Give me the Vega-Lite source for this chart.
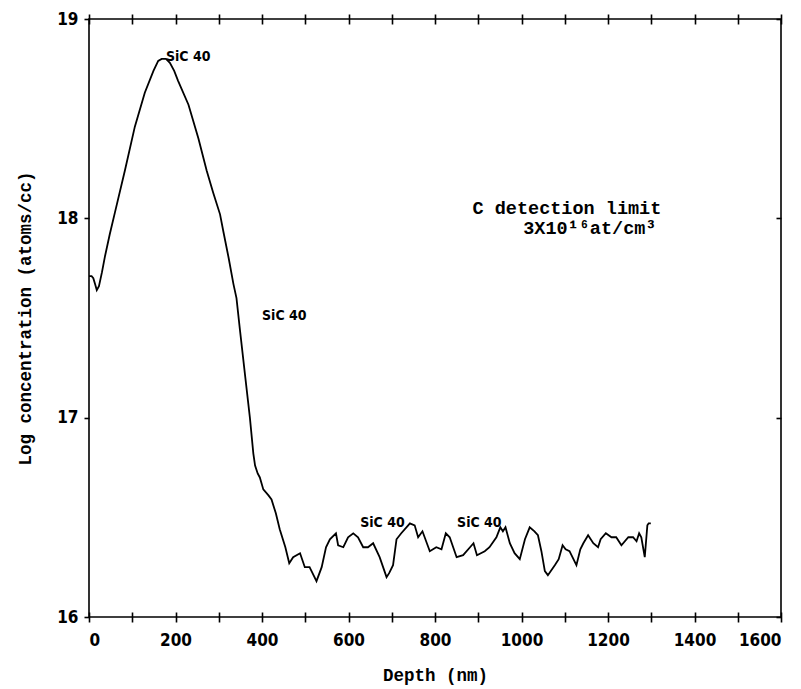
{
  "$schema": "https://vega.github.io/schema/vega-lite/v6.json",
  "width": 692,
  "height": 598,
  "autosize": {"type": "none"},
  "padding": {"left": 89, "top": 19, "right": 20, "bottom": 72},
  "background": "white",
  "config": {
    "view": {"stroke": "black", "strokeWidth": 1.6},
    "axis": {
      "domain": false,
      "grid": false,
      "tickColor": "black",
      "tickWidth": 1.6,
      "labelColor": "black",
      "titleColor": "black"
    }
  },
  "datasets": {
    "profile": [
      {"depth": 0, "logc": 17.71}, {"depth": 6, "logc": 17.71}, {"depth": 10, "logc": 17.70},
      {"depth": 14, "logc": 17.67}, {"depth": 18, "logc": 17.64}, {"depth": 23, "logc": 17.66},
      {"depth": 30, "logc": 17.73}, {"depth": 37, "logc": 17.81}, {"depth": 48, "logc": 17.92},
      {"depth": 60, "logc": 18.03}, {"depth": 83, "logc": 18.24}, {"depth": 106, "logc": 18.46},
      {"depth": 129, "logc": 18.63}, {"depth": 149, "logc": 18.74}, {"depth": 160, "logc": 18.79},
      {"depth": 168, "logc": 18.80}, {"depth": 178, "logc": 18.80}, {"depth": 187, "logc": 18.78},
      {"depth": 197, "logc": 18.74}, {"depth": 206, "logc": 18.69}, {"depth": 230, "logc": 18.57},
      {"depth": 253, "logc": 18.40}, {"depth": 272, "logc": 18.24}, {"depth": 287, "logc": 18.13},
      {"depth": 303, "logc": 18.02}, {"depth": 311, "logc": 17.93}, {"depth": 323, "logc": 17.80},
      {"depth": 334, "logc": 17.67}, {"depth": 341, "logc": 17.60}, {"depth": 349, "logc": 17.44},
      {"depth": 361, "logc": 17.21}, {"depth": 372, "logc": 17.00}, {"depth": 380, "logc": 16.82},
      {"depth": 384, "logc": 16.76}, {"depth": 390, "logc": 16.72}, {"depth": 395, "logc": 16.70},
      {"depth": 403, "logc": 16.64}, {"depth": 415, "logc": 16.61}, {"depth": 422, "logc": 16.59},
      {"depth": 432, "logc": 16.52}, {"depth": 441, "logc": 16.44}, {"depth": 454, "logc": 16.35},
      {"depth": 463, "logc": 16.27}, {"depth": 472, "logc": 16.30}, {"depth": 488, "logc": 16.32},
      {"depth": 499, "logc": 16.25}, {"depth": 510, "logc": 16.25}, {"depth": 526, "logc": 16.18},
      {"depth": 538, "logc": 16.25}, {"depth": 548, "logc": 16.35}, {"depth": 557, "logc": 16.39},
      {"depth": 571, "logc": 16.42}, {"depth": 576, "logc": 16.36}, {"depth": 588, "logc": 16.35},
      {"depth": 599, "logc": 16.40}, {"depth": 611, "logc": 16.42}, {"depth": 622, "logc": 16.40},
      {"depth": 634, "logc": 16.35}, {"depth": 645, "logc": 16.35}, {"depth": 657, "logc": 16.37},
      {"depth": 672, "logc": 16.30}, {"depth": 688, "logc": 16.20}, {"depth": 694, "logc": 16.22},
      {"depth": 703, "logc": 16.26}, {"depth": 711, "logc": 16.39}, {"depth": 722, "logc": 16.42},
      {"depth": 738, "logc": 16.46}, {"depth": 742, "logc": 16.47}, {"depth": 753, "logc": 16.46},
      {"depth": 761, "logc": 16.40}, {"depth": 771, "logc": 16.43}, {"depth": 788, "logc": 16.33},
      {"depth": 803, "logc": 16.35}, {"depth": 815, "logc": 16.34}, {"depth": 825, "logc": 16.42},
      {"depth": 834, "logc": 16.40}, {"depth": 850, "logc": 16.30}, {"depth": 865, "logc": 16.31},
      {"depth": 881, "logc": 16.35}, {"depth": 889, "logc": 16.37}, {"depth": 897, "logc": 16.31},
      {"depth": 915, "logc": 16.33}, {"depth": 926, "logc": 16.35}, {"depth": 942, "logc": 16.40},
      {"depth": 951, "logc": 16.45}, {"depth": 957, "logc": 16.43}, {"depth": 963, "logc": 16.45},
      {"depth": 973, "logc": 16.37}, {"depth": 984, "logc": 16.32}, {"depth": 996, "logc": 16.29},
      {"depth": 1008, "logc": 16.39}, {"depth": 1019, "logc": 16.45}, {"depth": 1030, "logc": 16.43},
      {"depth": 1038, "logc": 16.41}, {"depth": 1046, "logc": 16.33}, {"depth": 1054, "logc": 16.23},
      {"depth": 1061, "logc": 16.21}, {"depth": 1077, "logc": 16.26}, {"depth": 1086, "logc": 16.29},
      {"depth": 1095, "logc": 16.36}, {"depth": 1102, "logc": 16.34}, {"depth": 1111, "logc": 16.33},
      {"depth": 1127, "logc": 16.26}, {"depth": 1136, "logc": 16.34}, {"depth": 1143, "logc": 16.37},
      {"depth": 1154, "logc": 16.41}, {"depth": 1166, "logc": 16.37}, {"depth": 1177, "logc": 16.35},
      {"depth": 1183, "logc": 16.39}, {"depth": 1195, "logc": 16.42}, {"depth": 1208, "logc": 16.40},
      {"depth": 1219, "logc": 16.40}, {"depth": 1231, "logc": 16.36}, {"depth": 1247, "logc": 16.40},
      {"depth": 1258, "logc": 16.40}, {"depth": 1266, "logc": 16.38}, {"depth": 1272, "logc": 16.42},
      {"depth": 1277, "logc": 16.40}, {"depth": 1285, "logc": 16.30}, {"depth": 1291, "logc": 16.46},
      {"depth": 1294, "logc": 16.47}, {"depth": 1299, "logc": 16.47}
    ],
    "peaks": [
      {"depth": 178, "logc": 18.81, "label": "SiC 40"},
      {"depth": 400, "logc": 17.51, "label": "SiC 40"},
      {"depth": 627, "logc": 16.47, "label": "SiC 40"},
      {"depth": 851, "logc": 16.47, "label": "SiC 40"}
    ],
    "limit": [
      {"depth": 1105, "logc": 18.05, "label": "C detection limit"},
      {"depth": 1158, "logc": 17.95, "label": "3X10¹⁶at/cm³"}
    ]
  },
  "layer": [
    {
      "data": {"name": "profile"},
      "mark": {"type": "line", "color": "black", "strokeWidth": 1.8},
      "encoding": {
        "x": {
          "field": "depth",
          "type": "quantitative",
          "scale": {"domain": [0, 1600], "nice": false, "zero": false},
          "axis": {
            "orient": "bottom",
            "values": [0, 200, 400, 600, 800, 1000, 1200, 1400, 1600],
            "format": "d",
            "ticks": false,
            "tickSize": 0,
            "labelPadding": 15,
            "labelFont": "'Liberation Sans Narrow', 'DejaVu Sans Condensed', sans-serif",
            "labelFontSize": 17,
            "labelFontWeight": "bold",
            "title": "Depth (nm)",
            "titleFont": "'Liberation Mono', 'DejaVu Sans Mono', monospace",
            "titleFontSize": 17.5,
            "titleFontWeight": "bold",
            "titlePadding": 18
          }
        },
        "y": {
          "field": "logc",
          "type": "quantitative",
          "scale": {"domain": [16, 19], "nice": false, "zero": false},
          "axis": {
            "orient": "left",
            "values": [16, 17, 18, 19],
            "format": "d",
            "tickSize": 5,
            "labelPadding": 6,
            "labelFont": "'Liberation Sans Narrow', 'DejaVu Sans Condensed', sans-serif",
            "labelFontSize": 17,
            "labelFontWeight": "bold",
            "title": "Log concentration (atoms/cc)",
            "titleFont": "'Liberation Mono', 'DejaVu Sans Mono', monospace",
            "titleFontSize": 17.5,
            "titleFontWeight": "bold",
            "titlePadding": 22
          }
        }
      }
    },
    {
      "data": {"name": "peaks"},
      "mark": {
        "type": "text",
        "align": "left",
        "baseline": "middle",
        "font": "'Liberation Sans Narrow', 'DejaVu Sans Condensed', sans-serif",
        "fontSize": 14,
        "fontWeight": "bold",
        "color": "black"
      },
      "encoding": {
        "x": {
          "field": "depth",
          "type": "quantitative",
          "axis": {
            "orient": "bottom",
            "values": [0, 100, 200, 300, 400, 500, 600, 700, 800, 900, 1000, 1100, 1200, 1300, 1400, 1500, 1600],
            "tickSize": 10,
            "offset": -5,
            "labels": false,
            "title": null
          }
        },
        "y": {
          "field": "logc",
          "type": "quantitative",
          "axis": {
            "orient": "right",
            "values": [16, 17, 18, 19],
            "tickSize": 5,
            "offset": -5,
            "labels": false,
            "title": null
          }
        },
        "text": {"field": "label"}
      }
    },
    {
      "data": {"name": "limit"},
      "mark": {
        "type": "text",
        "align": "center",
        "baseline": "middle",
        "font": "'Liberation Mono', 'DejaVu Sans Mono', monospace",
        "fontSize": 18.5,
        "fontWeight": "bold",
        "color": "black"
      },
      "encoding": {
        "x": {
          "field": "depth",
          "type": "quantitative",
          "axis": {
            "orient": "top",
            "values": [0, 100, 200, 300, 400, 500, 600, 700, 800, 900, 1000, 1100, 1200, 1300, 1400, 1500, 1600],
            "tickSize": 10,
            "offset": -5,
            "labels": false,
            "title": null
          }
        },
        "y": {"field": "logc", "type": "quantitative", "axis": null},
        "text": {"field": "label"}
      }
    }
  ],
  "resolve": {"axis": {"x": "independent", "y": "independent"}}
}
